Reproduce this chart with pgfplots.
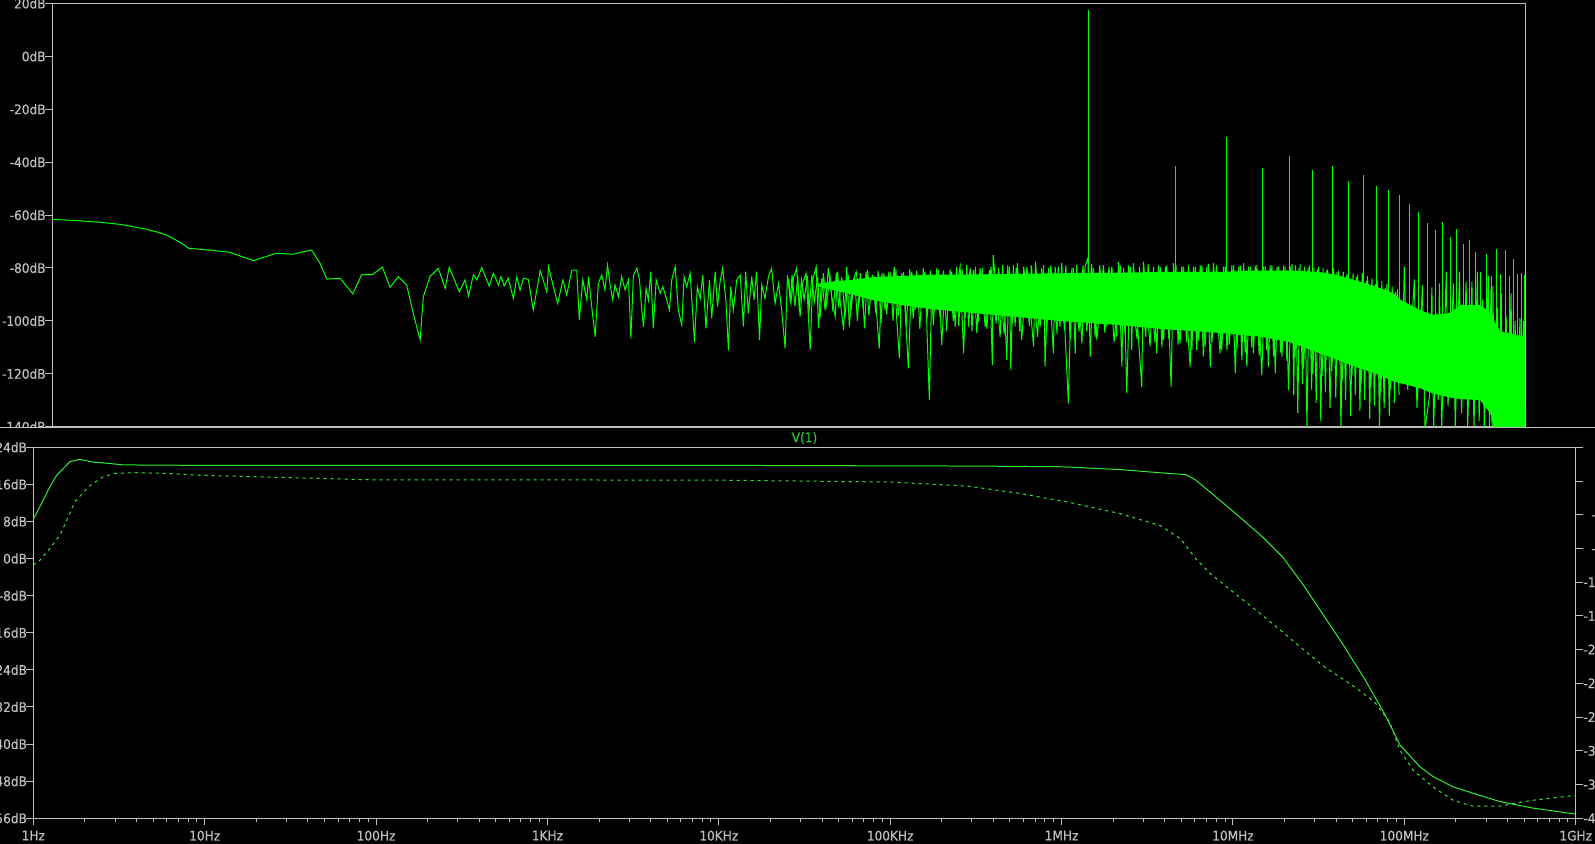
\documentclass[border=0pt]{standalone}
\usepackage{fontspec}
\setmainfont{DejaVu Sans}[FakeStretch=0.92, FakeBold=0.4]
\usepackage{pgfplots}
\pgfplotsset{compat=1.18}
\definecolor{axgray}{RGB}{190,190,190}
\definecolor{trace}{RGB}{0,255,0}
\definecolor{thintrace}{RGB}{50,235,50}
\definecolor{ttl}{RGB}{40,200,40}
\newcommand{\lbl}{\fontsize{6.6pt}{7.8pt}\selectfont}
\pgfplotsset{lt/.style={scale only axis, anchor=south west,
  axis line style={draw=axgray, line width=0.5pt},
  tick style={draw=axgray, line width=0.5pt},
  tick align=outside, major tick length=3.5pt, minor tick length=1.7pt,
  tick label style={text=axgray, font=\lbl, inner sep=1pt},
  every axis title shift=0pt,
  title style={text=ttl, font=\lbl, anchor=south, at={(0.5,1)}, inner sep=0pt, yshift=1.5pt}}}
\begin{document}
\begin{tikzpicture}
\path[use as bounding box] (0,0) rectangle (797.5pt,422pt);
\fill[black] (0,0) rectangle (797.5pt,422pt);
\clip (0,0) rectangle (797.5pt,422pt);
% ---------------- top pane: FFT spectrum ----------------
\begin{axis}[lt, at={(26pt,208.65pt)}, width=736.5pt, height=211.6pt,
  xmin=0, xmax=5.1175, ymin=-140, ymax=20, xtick=\empty,
  ytick={-140,-120,...,20}, ytick pos=left,
  yticklabel style={xshift=1.5pt},
  yticklabels={-140dB,-120dB,-100dB,-80dB,-60dB,-40dB,-20dB,0dB,20dB},
  title={V(1)}]
% dense noise band
\addplot[fill=trace, draw=none] coordinates {
(2.66,-86) (2.72,-85) (2.78,-84.5) (2.85,-83.5) (2.95,-83) (3.05,-82.5) (3.15,-82.5) (3.3,-82.3) (3.5,-82) (3.7,-81.8) (3.85,-81.5) (4.05,-81.5) (4.2,-81) (4.3,-81) (4.4,-81.5) (4.46,-82.5) (4.52,-84.4) (4.6,-87) (4.66,-89.5) (4.684,-92) (4.753,-95.9) (4.80,-97.8) (4.858,-97) (4.893,-94) (4.962,-94) (4.997,-97) (5.01,-100) (5.031,-104) (5.1175,-106)
(5.1175,-141) (5.01,-141) (4.997,-135) (4.962,-130) (4.893,-129.5) (4.858,-129) (4.80,-127.5) (4.753,-125.5) (4.684,-123.5) (4.66,-122.8) (4.6,-120) (4.52,-117) (4.4,-112) (4.3,-108) (4.2,-106) (4.05,-104.5) (3.85,-103) (3.7,-101.5) (3.5,-100) (3.3,-98) (3.15,-96.5) (3.05,-95.5) (2.95,-94) (2.85,-92) (2.78,-90) (2.72,-88.5) (2.66,-87)};
% spectrum trace
\addplot[trace, line width=0.5pt] coordinates {
(0,-61.6) (0.089,-62.1) (0.167,-62.7) (0.236,-63.5) (0.281,-64.4) (0.330,-65.4) (0.365,-66.4) (0.400,-67.6) (0.445,-70.3) (0.476,-72.6) (0.514,-72.9) (0.572,-73.5) (0.618,-74.1) (0.699,-77.2) (0.781,-74.4) (0.838,-74.8) (0.902,-73.2) (0.931,-78.2) (0.955,-84.2) (1.001,-83.9) (1.045,-89.8) (1.076,-82.5) (1.114,-82.4) (1.148,-79.7) (1.174,-87.3) (1.203,-83.3) (1.232,-86.4) (1.255,-97.1) (1.279,-107.2) (1.290,-90.9) (1.313,-83.3) (1.342,-80.1) (1.366,-87.7) (1.380,-79.7) (1.415,-89.0) (1.435,-84.5) (1.447,-90.6) (1.464,-82.6) (1.476,-84.5) (1.493,-79.9) (1.519,-86.8) (1.533,-82.0) (1.551,-86.4) (1.560,-83.3) (1.571,-86.8) (1.585,-83.9) (1.603,-91.5) (1.615,-83.3) (1.626,-88.3) (1.638,-83.9) (1.655,-84.3) (1.672,-95.9) (1.696,-81.0) (1.719,-89.0) (1.725,-79.5) (1.742,-87.1) (1.757,-93.4) (1.775,-84.5) (1.788,-90.2) (1.806,-80.8) (1.823,-80.8) (1.832,-99.7) (1.844,-84.5)
(1.858,-92.1) (1.864,-83.3) (1.875,-94.6) (1.887,-106.0) (1.898,-85.8) (1.910,-82.7) (1.921,-88.3) (1.930,-78.9) (1.939,-86.4) (1.948,-92.1) (1.956,-86.4) (1.968,-90.8) (1.979,-83.3) (1.991,-88.3) (2.003,-84.5) (2.011,-106.6) (2.020,-82.7) (2.032,-80.1) (2.041,-84.5) (2.049,-95.9) (2.055,-102.2) (2.064,-87.7) (2.072,-92.1) (2.080,-81.4) (2.089,-102.8) (2.099,-84.5) (2.113,-89.6) (2.122,-87.1) (2.136,-92.1) (2.145,-95.9) (2.153,-84.5) (2.165,-79.5) (2.176,-95.9) (2.188,-101.6) (2.196,-83.3) (2.205,-87.1) (2.217,-82.0) (2.232,-107.9) (2.242,-87.1) (2.252,-91.5) (2.261,-82.7) (2.272,-102.8) (2.284,-84.5) (2.292,-99.0) (2.304,-81.4) (2.312,-94.6) (2.321,-85.2) (2.330,-80.1) (2.341,-92.1) (2.350,-111.0) (2.358,-87.1) (2.367,-95.9) (2.379,-84.5) (2.391,-82.7) (2.402,-102.2) (2.410,-81.4) (2.419,-97.1) (2.431,-83.3) (2.439,-92.1) (2.448,-81.4) (2.458,-107.2) (2.466,-86.4) (2.477,-91.5) (2.489,-83.3) (2.500,-80.1) (2.512,-93.4) (2.524,-85.8) (2.535,-95.9) (2.547,-110.4) (2.555,-82.7) (2.567,-93.4) (2.576,-83.9) (2.587,-80.1) (2.599,-98.4) (2.608,-85.8) (2.620,-82.0) (2.634,-111.0) (2.643,-84.5) (2.655,-79.5) (2.663,-102.8) (2.674,-83.9) (2.686,-95.9) (2.697,-80.1) (2.709,-90.8) (2.721,-98.4) (2.729,-81.4) (2.738,-92.1) (2.750,-103.4) (2.761,-79.5) (2.770,-102.2) (2.782,-85.2) (2.794,-81.4) (2.805,-92.1) (2.813,-85.8) (2.823,-102.8) (2.833,-80.8) (2.845,-92.1) (2.856,-84.5) (2.874,-110.4) (2.883,-82.0) (2.894,-95.9) (2.906,-82.7) (2.917,-92.1) (2.926,-79.5) (2.935,-99.7) (2.944,-114.2) (2.952,-82.0) (2.964,-95.9) (2.975,-117.9) (2.987,-81.4) (2.999,-95.9) (3.010,-84.5) (3.022,-90.8) (3.033,-81.4) (3.048,-129.9) (3.057,-83.3) (3.068,-94.6) (3.080,-80.8) (3.091,-109.1) (3.103,-84.5) (3.114,-95.9) (3.126,-81.4) (3.138,-102.2) (3.147,-84.5)
(3.155,-79.5) (3.167,-112.3) (3.178,-78.9) (3.184,-102.2) (3.201,-80.8) (3.213,-104.7) (3.224,-80.1) (3.242,-102.2) (3.257,-80.8) (3.267,-116.7) (3.270,-75.1) (3.294,-106.0) (3.303,-78.9) (3.317,-114.8) (3.326,-79.5) (3.331,-118.6) (3.340,-78.9) (3.346,-102.2) (3.354,-78.2) (3.369,-107.2) (3.387,-79.5) (3.410,-109.7) (3.417,-77.6) (3.433,-102.2) (3.445,-78.9) (3.450,-117.3) (3.462,-80.1) (3.479,-112.3) (3.485,-79.5) (3.502,-102.2) (3.508,-78.2) (3.531,-131.2) (3.543,-80.1) (3.555,-112.3) (3.560,-78.9) (3.578,-108.5) (3.589,-79.5) (3.599,-76.3) (3.607,-113.5) (3.618,-80.1) (3.630,-107.2) (3.653,-78.9) (3.665,-102.2) (3.682,-79.5) (3.699,-106.0) (3.705,-77.6) (3.717,-117.3) (3.723,-80.1) (3.734,-127.4) (3.746,-79.5) (3.751,-111.0) (3.757,-78.2) (3.786,-124.9) (3.792,-77.6) (3.815,-109.7) (3.827,-79.5) (3.838,-112.3) (3.850,-79.5) (3.862,-107.2) (3.873,-78.9) (3.888,-124.9) (3.896,-78.2) (3.919,-108.5) (3.931,-79.5) (3.954,-117.3) (3.966,-79.5) (3.977,-111.0) (3.989,-78.9) (4.000,-113.5) (4.012,-79.5) (4.024,-117.3) (4.035,-78.2) (4.058,-112.3) (4.070,-79.5) (4.082,-111.0) (4.099,-78.9) (4.111,-119.8) (4.122,-79.5) (4.134,-114.8) (4.140,-78.2) (4.151,-117.3) (4.163,-79.5) (4.174,-112.3) (4.186,-78.9) (4.203,-120.5) (4.215,-79.5) (4.226,-117.3) (4.238,-78.9) (4.250,-119.8) (4.261,-79.5) (4.273,-113.5) (4.284,-79.5) (4.296,-126.1)
(4.308,-78.5) (4.314,-128) (4.320,-79) (4.328,-135) (4.336,-78.5) (4.344,-124) (4.352,-79.5) (4.360,-141) (4.368,-79) (4.376,-126) (4.384,-80) (4.392,-131) (4.400,-79.5) (4.408,-138) (4.416,-80) (4.424,-127) (4.432,-80.5) (4.440,-133) (4.452,-80) (4.460,-129) (4.470,-81) (4.478,-141) (4.486,-81.5) (4.494,-130) (4.502,-82) (4.512,-136) (4.520,-82) (4.528,-128) (4.536,-82.5) (4.544,-134) (4.552,-82) (4.560,-130) (4.570,-83) (4.578,-137) (4.586,-84) (4.594,-132) (4.604,-84.5) (4.612,-141) (4.620,-85) (4.628,-133) (4.638,-86) (4.646,-136) (4.656,-87) (4.664,-131) (4.674,-88) (4.690,-124) (4.698,-79.5) (4.710,-126) (4.733,-84.3) (4.742,-133) (4.761,-86.5) (4.770,-141) (4.786,-128) (4.794,-87.3) (4.800,-141) (4.812,-97) (4.816,-130) (4.820,-85.8) (4.828,-141) (4.844,-81.4) (4.850,-132) (4.869,-85.8) (4.875,-141) (4.890,-81.4) (4.897,-135) (4.913,-85.2) (4.918,-141) (4.933,-85.2) (4.940,-141) (4.952,-81.4) (4.958,-138) (4.970,-92) (4.976,-141) (4.990,-83) (4.994,-141) (4.999,-88.1) (5.003,-141) (5.006,-86.9) (5.012,-141) (5.022,-95) (5.030,-141) (5.035,-89.6) (5.040,-141) (5.052,-98) (5.060,-141) (5.069,-89.6) (5.074,-141) (5.083,-100) (5.090,-141) (5.100,-99) (5.105,-141) (5.112,-100) (5.117,-141)};
% further dense bins between the ones above
\addplot[trace, line width=0.5pt] coordinates {
(2.560,-84) (2.565,-93) (2.571,-82.5) (2.581,-94.5) (2.591,-83) (2.596,-96) (2.604,-84.5) (2.613,-92) (2.625,-83) (2.630,-97) (2.640,-82.5) (2.648,-93) (2.660,-83.5) (2.668,-99) (2.680,-82) (2.690,-94) (2.703,-83) (2.713,-96.5) (2.725,-82) (2.733,-95) (2.744,-83.5) (2.755,-99) (2.766,-82.5) (2.776,-96) (2.788,-83) (2.798,-100) (2.808,-82) (2.818,-95.5) (2.828,-81.5) (2.838,-98) (2.850,-82.5) (2.862,-97) (2.870,-81) (2.880,-101) (2.890,-82) (2.900,-97.5) (2.912,-81.5) (2.922,-100) (2.932,-80.5) (2.940,-98) (2.958,-81.5) (2.968,-102) (2.980,-80.5) (2.992,-99) (3.004,-81) (3.015,-103) (3.027,-80) (3.040,-99) (3.052,-81) (3.062,-101.5) (3.074,-80) (3.085,-98.5) (3.097,-81) (3.108,-104) (3.120,-80.5) (3.131,-100) (3.143,-79.5) (3.150,-102) (3.162,-80.5) (3.172,-99) (3.190,-80) (3.196,-104) (3.208,-79.5) (3.218,-100.5) (3.232,-80) (3.248,-103) (3.262,-79.5) (3.280,-101) (3.288,-80) (3.308,-105) (3.320,-79) (3.336,-101) (3.350,-80) (3.362,-104) (3.376,-79.5) (3.396,-102) (3.402,-79) (3.424,-106) (3.438,-80) (3.456,-103) (3.470,-79) (3.492,-105) (3.496,-79.5) (3.518,-103.5) (3.522,-79) (3.538,-107) (3.548,-80) (3.568,-104) (3.582,-79) (3.595,-104) (3.612,-78.5) (3.624,-106) (3.640,-79) (3.658,-104.5) (3.672,-79.5) (3.690,-108) (3.711,-79) (3.728,-105) (3.740,-79) (3.770,-107) (3.778,-79.5) (3.800,-106) (3.808,-78.5) (3.832,-108) (3.844,-79) (3.856,-110) (3.868,-79.5) (3.880,-107) (3.905,-79) (3.912,-109) (3.925,-79.5) (3.942,-108) (3.948,-79) (3.960,-111) (3.972,-79.5) (3.984,-107.5) (3.995,-79) (4.006,-110) (4.018,-78.5) (4.030,-108) (4.046,-79) (4.064,-111) (4.076,-79.5) (4.090,-109) (4.105,-79) (4.117,-110.5) (4.128,-79) (4.146,-112) (4.157,-79.5) (4.168,-110) (4.180,-79) (4.194,-113) (4.208,-79.5) (4.220,-111) (4.232,-79) (4.244,-113.5) (4.256,-79.5) (4.268,-112) (4.279,-79) (4.290,-115) (4.302,-79.5) (4.318,-114) (4.332,-80) (4.348,-118) (4.364,-80) (4.380,-120) (4.396,-80.5) (4.412,-121) (4.428,-81) (4.446,-119) (4.464,-81.5) (4.482,-123) (4.498,-82.5) (4.516,-121) (4.532,-83.5) (4.548,-124) (4.566,-85) (4.582,-125) (4.598,-86) (4.616,-127) (4.632,-87.5) (4.650,-126) (4.668,-89) (4.680,-128)};
% harmonic lines
\addplot[trace, line width=0.5pt, unbounded coords=jump] coordinates {
(3.602,-90) (3.602,17.5) (3.602,nan)
(3.903,-90) (3.903,-41.4) (3.903,nan)
(4.079,-90) (4.079,-30.6) (4.079,nan)
(4.204,-90) (4.204,-42.1) (4.204,nan)
(4.301,-90) (4.301,-37.5) (4.301,nan)
(4.380,-90) (4.380,-42.9) (4.380,nan)
(4.447,-90) (4.447,-41.4) (4.447,nan)
(4.505,-90) (4.505,-47.1) (4.505,nan)
(4.556,-95) (4.556,-44.8) (4.556,nan)
(4.602,-95) (4.602,-49.0) (4.602,nan)
(4.643,-100) (4.643,-50.6) (4.643,nan)
(4.681,-100) (4.681,-52.5) (4.681,nan)
(4.716,-105) (4.716,-55.8) (4.716,nan)
(4.748,-105) (4.748,-59.0) (4.748,nan)
(4.778,-105) (4.778,-62.9) (4.778,nan)
(4.806,-105) (4.806,-65.6) (4.806,nan)
(4.832,-105) (4.832,-62.5) (4.832,nan)
(4.857,-105) (4.857,-68.4) (4.857,nan)
(4.881,-105) (4.881,-65.3) (4.881,nan)
(4.903,-105) (4.903,-71.1) (4.903,nan)
(4.924,-105) (4.924,-69.4) (4.924,nan)
(4.944,-105) (4.944,-74.1) (4.944,nan)
(4.964,-105) (4.964,-81.4) (4.964,nan)
(4.982,-105) (4.982,-74.7) (4.982,nan)
(5.000,-105) (5.000,-83.0) (5.000,nan)
(5.017,-105) (5.017,-72.8) (5.017,nan)
(5.033,-110) (5.033,-82.3) (5.033,nan)
(5.049,-110) (5.049,-73.2) (5.049,nan)
(5.064,-110) (5.064,-83.0) (5.064,nan)
(5.079,-110) (5.079,-76.7) (5.079,nan)
(5.093,-110) (5.093,-82.3) (5.093,nan)
(5.107,-110) (5.107,-81.8) (5.107,nan)
(5.115,-110) (5.115,-82.7)};
\end{axis}
% separator and lower pane background
\fill[black] (0,0) rectangle (797.5pt,208pt);
\draw[axgray, line width=0.5pt] (0,208.15pt) -- (797.5pt,208.15pt);
% ---------------- bottom pane: AC response ----------------
\begin{axis}[lt, at={(16.65pt,12.85pt)}, width=771.2pt, height=185.5pt,
  xmode=log, xmin=1, xmax=1e9, ymin=-56, ymax=24,
  xtick={1,10,100,1e3,1e4,1e5,1e6,1e7,1e8,1e9},
  xticklabels={1Hz,10Hz,100Hz,1KHz,10KHz,100KHz,1MHz,10MHz,100MHz,1GHz},
  minor xtick={2,3,4,5,6,7,8,9,20,30,40,50,60,70,80,90,200,300,400,500,600,700,800,900,2e3,3e3,4e3,5e3,6e3,7e3,8e3,9e3,2e4,3e4,4e4,5e4,6e4,7e4,8e4,9e4,2e5,3e5,4e5,5e5,6e5,7e5,8e5,9e5,2e6,3e6,4e6,5e6,6e6,7e6,8e6,9e6,2e7,3e7,4e7,5e7,6e7,7e7,8e7,9e7,2e8,3e8,4e8,5e8,6e8,7e8,8e8,9e8},
  xtick pos=left, xticklabel style={yshift=-1.5pt},
  ytick={-56,-48,...,24}, ytick pos=left,
  yticklabel style={xshift=1.5pt},
  yticklabels={-56dB,-48dB,-40dB,-32dB,-24dB,-16dB,-8dB,0dB,8dB,16dB,24dB},
  title={V(1)}]
\addplot[thintrace, line width=0.5pt] coordinates {
(1,8.5) (1.094,11.2) (1.250,15.5) (1.371,18.0) (1.637,20.9) (1.871,21.4) (2.239,20.8) (2.805,20.5) (3.350,20.2) (9.4,20.1) (100,20.1) (1e3,20.1) (1e4,20.1) (1e5,20.0) (3.162e5,19.95) (1e6,19.8) (2.188e6,19.2) (3.784e6,18.5) (5.321e6,18.1) (6.026e6,17.0) (7.499e6,14.1) (1e7,10.2) (1.486e7,4.7) (1.954e7,0.3) (2.564e7,-5.6) (3.373e7,-12.2) (4.436e7,-18.8) (5.834e7,-25.8) (7.674e7,-33.5) (9.441e7,-40.2) (1.233e8,-44.9) (1.469e8,-47.0) (1.923e8,-49.2) (2.518e8,-50.6) (3.614e8,-52.4) (5.636e8,-53.8) (1e9,-55.1)};
\end{axis}
\begin{axis}[lt, at={(16.65pt,12.85pt)}, width=771.2pt, height=185.5pt,
  xmode=log, xmin=1, xmax=1e9, ymin=-400, ymax=40,
  axis y line*=right, axis x line=none,
  ytick={-400,-360,...,40},
  yticklabels={-400°,-360°,-320°,-280°,-240°,-200°,-160°,-120°,-80°,-40°,0°,{}},
  yticklabel style={anchor=east, inner sep=0pt, xshift=17.4pt}]
\addplot[thintrace, line width=0.5pt, dash pattern=on 1.5pt off 2pt] coordinates {
(1,-99.7) (1.094,-93.8) (1.250,-79.9) (1.432,-64.1) (1.600,-42.4) (1.750,-24.6) (2.094,-6.8) (2.559,5.1) (3.0,9.1) (3.828,9.9) (5.998,9.1) (9.4,6.8) (100,1.3) (1e3,1.3) (1e4,1.0) (1e5,-1.2) (2.818e5,-6.0) (5.572e5,-14.4) (1.104e6,-25.2) (2.188e6,-38.6) (3.784e6,-53.0) (4.966e6,-68.7) (6.109e6,-92.9) (7.499e6,-111.0) (1e7,-131.5) (1.486e7,-159.3) (2.239e7,-189.4) (3.373e7,-219.6) (5.093e7,-243.7) (6.683e7,-261.8) (8.222e7,-286) (9.441e7,-319.3) (1.125e8,-343) (1.469e8,-362.8) (1.923e8,-378.6) (2.518e8,-385.7) (3.614e8,-385.7) (4.305e8,-382.5) (5.636e8,-378.6) (1e9,-372.7)};
\end{axis}
\end{tikzpicture}
\end{document}
